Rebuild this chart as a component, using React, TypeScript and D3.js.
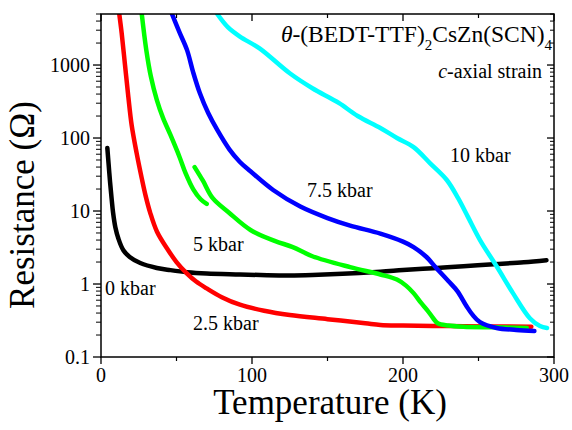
import React from "react";
import * as d3 from "d3";

const W = 572, H = 430;
const M = { left: 101, right: 554, top: 14, bottom: 357 };

const xTicksMajor = [0, 100, 200, 300];
const xTicksMinor = [50, 150, 250];
const yTicksMajor = [0.1, 1, 10, 100, 1000];
const yTickLabels = ["0.1", "1", "10", "100", "1000"];

const black0: [number, number][] = [
  [4.2, 73], [5, 45], [6, 25], [7, 15], [8, 9.5], [9.5, 6], [11.5, 4.2], [14.8, 2.9], [19, 2.35],
  [26, 1.94], [37, 1.66], [46, 1.55], [57, 1.45], [70, 1.39], [92, 1.35], [110, 1.32],
  [125, 1.31], [140, 1.33], [160, 1.38], [185, 1.47], [200, 1.55], [220, 1.65], [240, 1.75],
  [260, 1.87], [280, 1.98], [295, 2.12],
];
const red25: [number, number][] = [
  [12.1, 5000], [13.7, 2720], [15.9, 1000], [18.1, 368], [20.3, 150], [23.6, 62], [27, 28],
  [29.6, 16], [32.5, 9.6], [37.1, 5.2], [44.4, 2.92], [50, 2.0], [56.8, 1.4], [63, 1.08],
  [70, 0.87], [80, 0.66], [92, 0.52], [108, 0.43], [125, 0.376], [150, 0.33], [175, 0.29],
  [185, 0.275], [200, 0.27], [230, 0.265], [260, 0.262], [285, 0.26],
];
const green5a: [number, number][] = [
  [27, 5000], [30, 1600], [33, 700], [37, 330], [41, 190], [46, 110], [52, 55], [56, 33],
  [61, 20], [66, 14.5], [70, 12.5],
];
const green5b: [number, number][] = [
  [62, 40], [67.5, 26], [74, 15], [85, 9.4], [99, 5.5], [115, 3.9], [127, 3.2], [140, 2.4],
  [165, 1.7], [185, 1.35], [196, 1.15], [202, 0.95], [207, 0.75], [212, 0.55], [216, 0.44],
  [220, 0.34], [223, 0.29], [230, 0.27], [240, 0.26], [260, 0.255], [282, 0.25],
];
const blue75: [number, number][] = [
  [47, 5000], [52, 2800], [57, 1600], [61, 800], [65.5, 410], [71, 220], [77, 129], [85, 70],
  [92, 47], [99, 35], [114, 19.4], [132, 11.5], [150, 8], [165, 6.3], [185, 4.9], [200, 3.8],
  [207, 3.2], [215, 2.4], [222, 1.66], [230, 1.1], [236, 0.8], [242, 0.5], [246, 0.38],
  [251, 0.3], [262, 0.25], [275, 0.235], [287, 0.227],
];
const cyan10: [number, number][] = [
  [77, 5000], [84, 3300], [92, 2450], [105, 1690], [125, 770], [140, 480], [152, 350],
  [158, 298], [170, 200], [185, 137], [196, 100], [207, 75], [218, 45], [229, 26.6],
  [236.4, 15.1], [243, 8.3], [251, 4.0], [262.3, 1.71], [272.8, 0.75], [284, 0.34],
  [290.7, 0.266], [295.4, 0.25],
];

const series = [
  { data: black0, color: "#000000" },
  { data: red25, color: "#ff0000" },
  { data: green5a, color: "#00ff00" },
  { data: green5b, color: "#00ff00" },
  { data: blue75, color: "#0000ff" },
  { data: cyan10, color: "#00ffff" },
];

const labels = [
  { text: "0 kbar", x: 105, y: 295 },
  { text: "2.5 kbar", x: 193, y: 330 },
  { text: "5 kbar", x: 193, y: 251 },
  { text: "7.5 kbar", x: 307, y: 197 },
  { text: "10 kbar", x: 450, y: 162 },
];

const FONT = "Liberation Serif, Times New Roman, serif";
const tf = { fontFamily: FONT };

export default function App() {
  const x = d3.scaleLinear().domain([0, 300]).range([M.left, M.right]);
  const y = d3.scaleLog().domain([0.1, 5000]).range([M.bottom, M.top]);
  const line = d3
    .line<[number, number]>()
    .x((d) => x(d[0]))
    .y((d) => y(d[1]))
    .curve(d3.curveCatmullRom.alpha(0.5));

  const yMinor: number[] = [];
  for (const dec of [0.1, 1, 10, 100, 1000]) {
    for (let k = 2; k <= 9; k++) {
      const v = dec * k;
      if (v <= 5000) yMinor.push(v);
    }
  }

  return (
    <svg
      width={W}
      height={H}
      style={{ position: "absolute", left: 0, top: 0, background: "#fff", fontFamily: FONT }}
    >
      <defs>
        <clipPath id="plot">
          <rect x={M.left} y={M.top} width={M.right - M.left} height={M.bottom - M.top} />
        </clipPath>
      </defs>
      <rect x={0} y={0} width={W} height={H} fill="#fff" />
      <g clipPath="url(#plot)">
        {series.map((s, i) => (
          <path
            key={i}
            d={line(s.data) || ""}
            fill="none"
            stroke={s.color}
            strokeWidth={4.5}
            strokeLinejoin="round"
            strokeLinecap="round"
          />
        ))}
      </g>
      <rect
        x={M.left}
        y={M.top}
        width={M.right - M.left}
        height={M.bottom - M.top}
        fill="none"
        stroke="#000"
        strokeWidth={1.5}
      />
      {xTicksMajor.map((t) => (
        <g key={"xm" + t}>
          <line x1={x(t)} x2={x(t)} y1={M.bottom} y2={M.bottom + 7} stroke="#000" strokeWidth={1.3} />
          <line x1={x(t)} x2={x(t)} y1={M.top} y2={M.top + 7} stroke="#000" strokeWidth={1.3} />
          <text x={x(t)} y={382} fontSize={20} textAnchor="middle" style={tf}>
            {t}
          </text>
        </g>
      ))}
      {xTicksMinor.map((t) => (
        <g key={"xn" + t}>
          <line x1={x(t)} x2={x(t)} y1={M.bottom} y2={M.bottom + 4} stroke="#000" strokeWidth={1.2} />
          <line x1={x(t)} x2={x(t)} y1={M.top} y2={M.top + 4} stroke="#000" strokeWidth={1.2} />
        </g>
      ))}
      {yTicksMajor.map((t, i) => (
        <g key={"ym" + t}>
          <line x1={M.left - 8} x2={M.left} y1={y(t)} y2={y(t)} stroke="#000" strokeWidth={1.3} />
          <line x1={M.right - 7} x2={M.right} y1={y(t)} y2={y(t)} stroke="#000" strokeWidth={1.3} />
          <text x={M.left - 11} y={y(t) + 7} fontSize={20} textAnchor="end" style={tf}>
            {yTickLabels[i]}
          </text>
        </g>
      ))}
      {yMinor.map((t) => (
        <g key={"yn" + t}>
          <line x1={M.left - 5} x2={M.left} y1={y(t)} y2={y(t)} stroke="#000" strokeWidth={1} />
          <line x1={M.right - 4} x2={M.right} y1={y(t)} y2={y(t)} stroke="#000" strokeWidth={1} />
        </g>
      ))}
      <text x={330} y={414} fontSize={35} textAnchor="middle" style={tf}>
        Temperature (K)
      </text>
      <text
        transform="translate(34, 205) rotate(-90)"
        fontSize={35}
        textAnchor="middle"
        style={tf}
      >
        Resistance (Ω)
      </text>
      {labels.map((l) => (
        <text key={l.text} x={l.x} y={l.y} fontSize={20} style={tf}>
          {l.text}
        </text>
      ))}
      <text x={552} y={42} fontSize={23.5} textAnchor="end" style={tf}>
        <tspan fontStyle="italic">θ</tspan>
        <tspan>-(BEDT-TTF)</tspan>
        <tspan fontSize={15} dy={8}>2</tspan>
        <tspan dy={-8}>CsZn(SCN)</tspan>
        <tspan fontSize={15} dy={8}>4</tspan>
      </text>
      <text x={542} y={78} fontSize={20} textAnchor="end" style={tf}>
        <tspan fontStyle="italic">c</tspan>
        <tspan>-axial strain</tspan>
      </text>
    </svg>
  );
}
